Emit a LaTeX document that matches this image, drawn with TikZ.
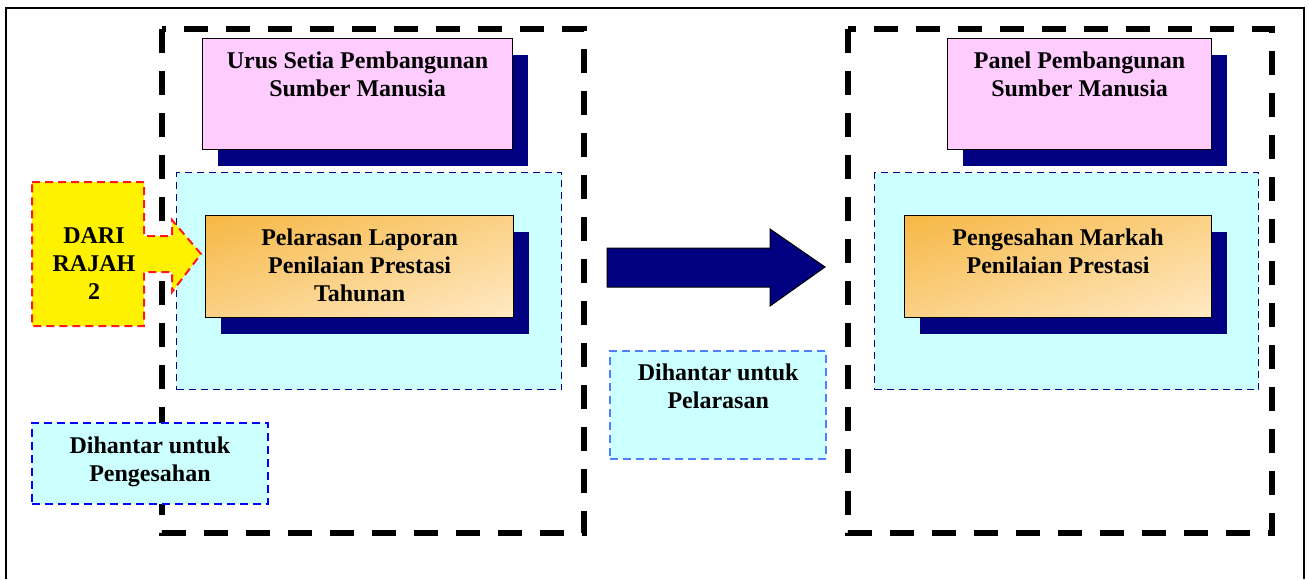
\documentclass[tikz,border=0pt]{standalone}
\usepackage{fontspec}
\setmainfont{Liberation Serif}
\usetikzlibrary{shadows,shadings}
\definecolor{merahjambu}{HTML}{FFCCFF}
\definecolor{biru}{HTML}{000080}
\definecolor{sian}{HTML}{CCFFFF}
\definecolor{orenA}{HTML}{F6B744}
\definecolor{orenB}{HTML}{FBD186}
\definecolor{orenC}{HTML}{FFE9C4}
\definecolor{biruterang}{HTML}{4D7FFF}
\definecolor{merah}{HTML}{FF1A1A}

\begin{document}
\begin{tikzpicture}[x=1pt, y=-1pt]
	\tikzset{bingkai/.style={line width=5.5pt, dash pattern=on 24pt off 18pt},
		bayang/.style={drop shadow={shadow xshift=15.5pt, shadow yshift=-16pt, fill=biru, opacity=1}},
		kotak/.style={anchor=north west, inner sep=0pt, draw=black, line width=1.2pt},
		kotaksian/.style={anchor=north west, inner sep=0pt, fill=sian, draw=biru, line width=1.3pt, dash pattern=on 7pt off 5pt},
		kotakpink/.style={kotak, fill=merahjambu, bayang, minimum height=111pt},
		kotakoren/.style={kotak, bayang, upper left=orenA, upper right=orenB, lower left=orenB, lower right=orenC, minimum height=102pt},
		nota/.style={anchor=north west, inner sep=0pt, fill=sian, line width=2pt, dash pattern=on 8pt off 5pt},
		teks/.style={font=\fontsize{24}{28}\selectfont\bfseries, align=center, inner sep=0pt, anchor=north}};
	\useasboundingbox (0,0) rectangle (1309,579);
	\draw[line width=1.4pt] (6,579) -- (6,8) -- (1304,8) -- (1304,579);

	% kumpulan kiri dan kanan
	\draw[bingkai] (162,29) rectangle (584,533);
	\draw[bingkai] (848,29) rectangle (1272,533);

	\node[kotaksian, minimum width=385pt, minimum height=217pt] (sianA) at (176,172) {};
	\node[kotaksian, minimum width=384pt, minimum height=217pt] (sianB) at (874,172) {};

	\node[kotakpink, minimum width=310pt] (usp) at (202,38) {};
	\node[kotakpink, minimum width=264pt] (pps) at (947,38) {};
	\node[kotakoren, minimum width=308pt] (lapor) at (205,215) {};
	\node[kotakoren, minimum width=307pt] (markah) at (904,215) {};

	% anak panah
	\draw[draw=merah, line width=2pt, dash pattern=on 8pt off 5pt, fill=yellow]
		(32,182) -- (144,182) -- (144,236) -- (172,236) -- (172,220) -- (201,254)
		-- (172,292) -- (172,272) -- (144,272) -- (144,326) -- (32,326) -- cycle;
	\draw[fill=biru, line width=1pt] (607,248) -- (770,248) -- (770,229) -- (825,267)
		-- (770,306) -- (770,287) -- (607,287) -- cycle;

	\node[nota, draw=blue, minimum width=236pt, minimum height=81pt] (sah) at (31,422) {};
	\node[nota, draw=biruterang, line width=2.4pt, minimum width=216pt, minimum height=108pt] (laras) at (609,350) {};

	\node[teks] (uspT) at ([yshift=-14pt]usp.north) {Urus Setia Pembangunan\\Sumber Manusia};
	\node[teks] (ppsT) at ([yshift=-14pt]pps.north) {Panel Pembangunan\\Sumber Manusia};
	\node[teks] (laporT) at ([yshift=-14pt]lapor.north) {Pelarasan Laporan\\Penilaian Prestasi\\Tahunan};
	\node[teks] (markahT) at ([yshift=-14pt]markah.north) {Pengesahan Markah\\Penilaian Prestasi};
	\node[teks] (dari) at (94,227) {DARI\\RAJAH\\2};
	\node[teks] (sahT) at ([yshift=-15pt]sah.north) {Dihantar untuk\\Pengesahan};
	\node[teks] (larasT) at ([yshift=-14pt]laras.north) {Dihantar untuk\\Pelarasan};
\end{tikzpicture}
\end{document}
